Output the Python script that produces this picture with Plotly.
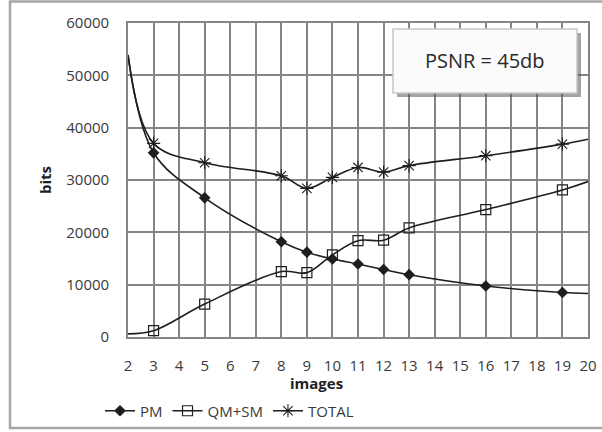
import plotly.graph_objects as go

# Bits per frame group versus number of images (PSNR = 45 dB)
images = [2, 3, 5, 8, 9, 10, 11, 12, 13, 16, 19, 20]
pm = [53900, 35200, 26600, 18200, 16200, 14900, 13950, 12900, 11900, 9750, 8500, 8300]
qm_sm = [600, 1200, 6300, 12500, 12300, 15700, 18400, 18500, 20850, 24350, 28100, 29700]
total = [53900, 37000, 33300, 30800, 28400, 30500, 32400, 31500, 32750, 34650, 36850, 37800]

series_names = ["PM", "QM+SM", "TOTAL"]
x_ticks = list(range(2, 21))
y_ticks = list(range(0, 60001, 10000))

FONT = "Open Sans, Liberation Sans, sans-serif"
INK = "#1e1e1e"
GRID = "#858585"

W, H = 602, 432
L, R, T, B = 128, 14, 23, 95
PW, PH = W - L - R, H - T - B


def px_x(px):
    return (px - L) / PW


def px_y(py):
    return (H - B - py) / PH


styles = {
    "PM": dict(symbol="diamond", size=9, color=INK, line=dict(width=0)),
    "QM+SM": dict(symbol="square-open", size=10, color=INK, line=dict(width=1.2)),
    "TOTAL": dict(symbol="asterisk-open", size=11, color=INK, line=dict(width=1.1, color=INK)),
}

fig = go.Figure()
for name, ys in zip(series_names, [pm, qm_sm, total]):
    # smoothed curve across the full span
    fig.add_trace(go.Scatter(
        x=images, y=ys, mode="lines", showlegend=False, hoverinfo="skip",
        line=dict(color=INK, width=1.6, shape="spline", smoothing=1.0),
    ))
    # markers only on the measured points (not the end caps)
    fig.add_trace(go.Scatter(
        x=images[1:-1], y=ys[1:-1], mode="markers", showlegend=False,
        marker=styles[name], name=name,
    ))
    # legend sample: line with marker
    fig.add_trace(go.Scatter(
        x=[None], y=[None], mode="lines+markers", name=name,
        line=dict(color=INK, width=1.6), marker=styles[name],
    ))

fig.update_layout(
    template="none",
    width=W, height=H,
    margin=dict(l=L, r=R, t=T, b=B, autoexpand=False),
    paper_bgcolor="white", plot_bgcolor="white",
    font=dict(family=FONT, size=15, color="#3a3a3a"),
    showlegend=True,
    legend=dict(
        orientation="h", x=px_x(100), y=px_y(411), xanchor="left", yanchor="middle",
        font=dict(size=15, color="#3a3a3a"), bgcolor="rgba(0,0,0,0)",
        itemwidth=30, tracegroupgap=0,
    ),
)

axis_style = dict(
    showgrid=True, gridcolor=GRID, gridwidth=1.6,
    showline=True, linecolor=GRID, linewidth=1.6, mirror=True,
    zeroline=False, ticks="outside", ticklen=14, tickcolor="rgba(255,255,255,0)",
)
fig.update_xaxes(range=[2, 20], tickmode="array", tickvals=x_ticks,
                 ticktext=[str(v) for v in x_ticks], **axis_style)
fig.update_yaxes(range=[0, 60000], tickmode="array", tickvals=y_ticks,
                 ticktext=[str(v) for v in y_ticks], **axis_style)

# axis titles
fig.add_annotation(text="<b>bits</b>", x=px_x(45), y=px_y(180), xref="paper", yref="paper",
                   xanchor="center", yanchor="middle",
                   textangle=-90, showarrow=False, font=dict(size=15, color=INK, family=FONT))
fig.add_annotation(text="<b>images</b>", x=px_x(316), y=px_y(383), xref="paper", yref="paper",
                   xanchor="center", yanchor="middle",
                   showarrow=False, font=dict(size=15, color=INK, family=FONT))

# chart frame
fig.add_shape(type="rect", xref="paper", yref="paper",
              x0=px_x(10), x1=px_x(606), y0=px_y(428), y1=px_y(1.5),
              line=dict(color="#a6a6a6", width=2.5), fillcolor="rgba(0,0,0,0)", layer="above")

# PSNR label box with drop shadow
fig.add_shape(type="rect", xref="paper", yref="paper",
              x0=px_x(397), x1=px_x(581), y0=px_y(97), y1=px_y(33),
              line=dict(width=0), fillcolor="rgba(90,90,90,0.55)", layer="above")
fig.add_shape(type="rect", xref="paper", yref="paper",
              x0=px_x(393), x1=px_x(577), y0=px_y(93), y1=px_y(29),
              line=dict(color="#c8c8c8", width=1.5), fillcolor="#fbfbfb", layer="above")
fig.add_annotation(text="PSNR = 45db", x=px_x(485), y=px_y(61), xref="paper", yref="paper",
                   xanchor="center", yanchor="middle",
                   showarrow=False, font=dict(size=20, color="#2a2a2a", family=FONT))

fig.write_html("out.html")
